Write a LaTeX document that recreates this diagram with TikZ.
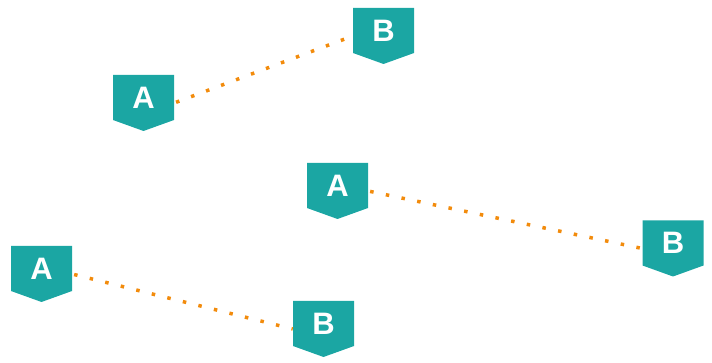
\documentclass[tikz,border=0pt]{standalone}
\usepackage{fontspec}
\setmainfont{Liberation Sans}
\definecolor{tealbox}{HTML}{1BA6A3}
\definecolor{dotorange}{HTML}{F28B0C}
\tikzset{
  tag/.style={shape=rectangle, inner sep=0pt, minimum width=61pt, minimum height=56pt,
    text=white, font=\fontsize{31}{31}\selectfont\bfseries,
    path picture={\fill[tealbox] (path picture bounding box.north west)
      -- (path picture bounding box.north east)
      -- ([yshift=11pt]path picture bounding box.south east)
      -- (path picture bounding box.south)
      -- ([yshift=11pt]path picture bounding box.south west) -- cycle;}},
  link/.style={dotorange, line width=3.5pt, dash pattern=on 3.5pt off 12.5pt, dash phase=-2pt}
}
\newcommand{\tagtext}[1]{\raisebox{5.5pt}[\height][\depth]{#1}}
\begin{document}
\begin{tikzpicture}[x=1pt,y=-1pt]
\useasboundingbox (0,0) rectangle (712,363);
\node[tag] (a1) at (143.5,103) {\tagtext{A}};
\node[tag] (b1) at (383.5,36) {\tagtext{B}};
\node[tag] (a2) at (337.5,191) {\tagtext{A}};
\node[tag] (b2) at (673,248.5) {\tagtext{B}};
\node[tag] (a3) at (41.5,274) {\tagtext{A}};
\node[tag] (b3) at (323.5,329) {\tagtext{B}};
\draw[link] (a1.east) -- (b1.west);
\draw[link] (a2.east) -- (b2.west);
\draw[link] (a3.east) -- (b3.west);
\end{tikzpicture}
\end{document}
